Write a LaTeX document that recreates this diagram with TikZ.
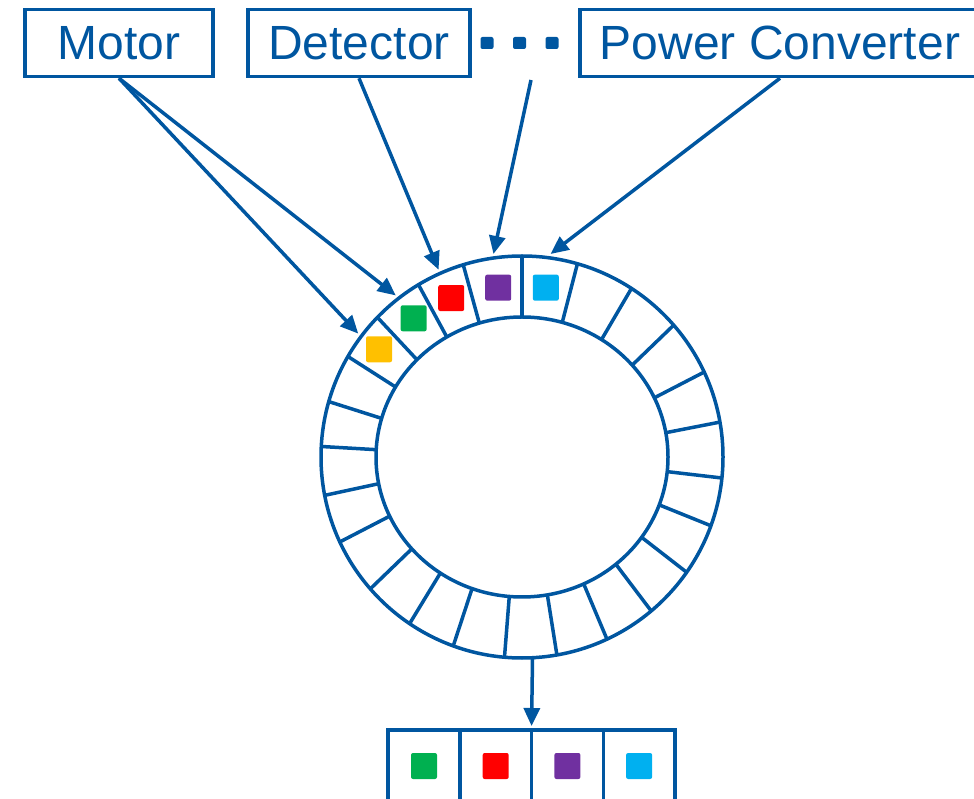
\documentclass[tikz,border=0pt]{standalone}
\usepackage{fontspec}
\setmainfont{Liberation Sans}
\usepackage{xcolor}
\usetikzlibrary{arrows.meta,positioning}

\definecolor{linkblue}{RGB}{0,86,160}
\definecolor{slotyellow}{RGB}{255,192,0}
\definecolor{slotgreen}{RGB}{0,176,80}
\definecolor{slotred}{RGB}{255,0,0}
\definecolor{slotpurple}{RGB}{112,48,160}
\definecolor{slotcyan}{RGB}{0,176,240}

\begin{document}
\begin{tikzpicture}[x=1pt,y=1pt,line width=3.5pt,draw=linkblue,
  unit/.style={rectangle,draw=linkblue,minimum height=67pt,inner sep=0pt,
    font=\fontsize{48}{58}\selectfont,text=linkblue},
  cell/.style={rectangle,draw=linkblue,outer sep=0pt,minimum width=71.7pt,
    minimum height=72pt,inner sep=0pt},
  token/.style={rectangle,rounded corners=2pt,minimum size=26pt,inner sep=0pt},
  dot/.style={rectangle,rounded corners=2pt,fill=linkblue,minimum width=13pt,
    minimum height=12pt,inner sep=0pt},
  feed/.style={draw=linkblue,-{Triangle[length=18pt,width=16pt]}}]
  \useasboundingbox (0,0) rectangle (974,798);
  \clip (0,0) rectangle (974,798);

  % sources on top
  \node[unit,minimum width=188pt] (motor) at (119,755) {Motor};
  \node[unit,minimum width=222pt] (detector) at (359,755) {Detector};
  \node[dot] (dot1) at (487,755) {};
  \node[dot,right=16pt of dot1] (dot2) {};
  \node[dot,right=16pt of dot2] (dot3) {};
  \node[unit,minimum width=400pt] (conv) at (780,755) {Power Converter};
  \coordinate (more) at (531,718);

  % the ring buffer
  \coordinate (hub) at (522,341);
  \draw (hub) circle (201);
  \draw (hub) ellipse (146 and 140);
  \begin{scope}[shift={(hub)}]
    \foreach \a in {90,74,57,41,25,10,-6,-20,-35,-50,-65,-80,-95,-110,-124,
                    -139,-155,-169,177,164,150,136,121,107}
      \draw (\a:146 and 140) -- (\a:201);
    \foreach \a/\r/\c [count=\i] in {143/179/slotyellow,128/176/slotgreen,
        114/174/slotred,98/171/slotpurple,82/171/slotcyan}{
      \node[token,fill=\c] (tok\i) at (\a:\r) {};
      \coordinate (in\i) at (\a:205);
    }
    \coordinate (drain) at (-87:201);
  \end{scope}

  \draw[feed] (motor.south) -- (in1);
  \draw[feed] (motor.south) -- (in2);
  \draw[feed] (detector.south) -- (in3);
  \draw[feed] (more) -- (in4);
  \draw[feed] (conv.south) -- (in5);

  % read-out
  \node[cell] (out1) at (424,32) {};
  \node[cell,right=0pt of out1] (out2) {};
  \node[cell,right=0pt of out2] (out3) {};
  \node[cell,right=0pt of out3] (out4) {};
  \foreach \c [count=\i] in {slotgreen,slotred,slotpurple,slotcyan}
    \node[token,fill=\c] (done\i) at (out\i) {};

  \draw[feed] (drain) -- ([yshift=4pt]out2.north east);
\end{tikzpicture}
\end{document}
